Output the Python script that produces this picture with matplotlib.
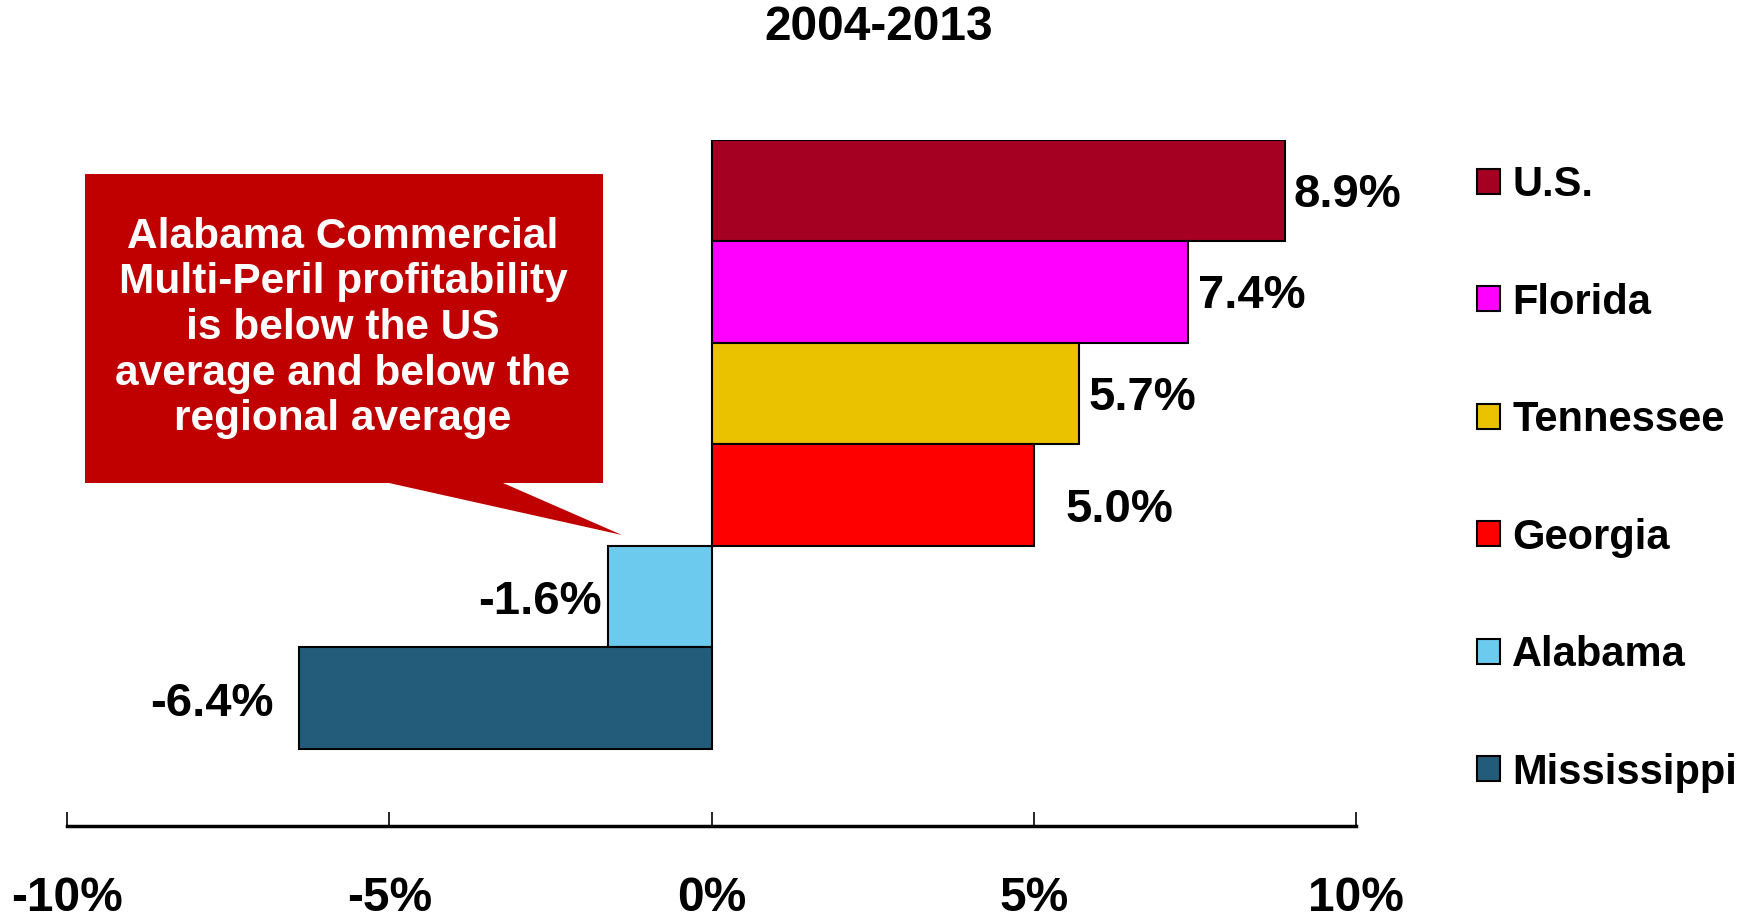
import matplotlib
matplotlib.use("Agg")
import matplotlib.pyplot as plt
from matplotlib.patches import Polygon

plt.rcParams['font.family'] = ['Liberation Sans', 'DejaVu Sans']
plt.rcParams['font.weight'] = 'bold'

# ---- data ----
title = "2004-2013"
states = ["U.S.", "Florida", "Tennessee", "Georgia", "Alabama", "Mississippi"]
values = [8.9, 7.4, 5.7, 5.0, -1.6, -6.4]
labels = ["8.9%", "7.4%", "5.7%", "5.0%", "-1.6%", "-6.4%"]
colors = ["#A50021", "#FF00FF", "#EBC200", "#FF0000", "#6DCAEF", "#235C7B"]
xticks = [-10, -5, 0, 5, 10]
xticklabels = ["-10%", "-5%", "0%", "5%", "10%"]
callout = ("Alabama Commercial\nMulti-Peril profitability\nis below the US\n"
           "average and below the\nregional average")

# label offsets (points): style only
label_offsets = [(6, -3), (7, -3), (7, -3), (23, -11), (-5, -4), (-18, -4)]

W, H = 1752, 922
fig = plt.figure(figsize=(W / 100, H / 100), dpi=100)

def fx(px):
    return px / W

def fy(py):
    return 1 - py / H

ax_left, ax_right = 67, 1356
ax_top, ax_bottom = 139.7, 826
ax = fig.add_axes([fx(ax_left), fy(ax_bottom), fx(ax_right) - fx(ax_left),
                   fy(ax_top) - fy(ax_bottom)])

ypos = list(range(len(states)))
bars = ax.barh(ypos, values, height=1.0, color=colors, edgecolor="black",
               linewidth=1.5)
ax.set_xlim(-10, 10)
ax.set_ylim(6.26, -0.5)

for i, (v, lab) in enumerate(zip(values, labels)):
    dx, dy = label_offsets[i]
    ax.annotate(lab, xy=(v, i), xytext=(dx, dy), textcoords="offset points",
                ha="left" if v >= 0 else "right", va="center",
                fontsize=34, fontweight="bold", color="black")

for s in ["top", "left", "right"]:
    ax.spines[s].set_visible(False)
ax.spines["bottom"].set_linewidth(2.5)
ax.set_yticks([])
ax.set_xticks(xticks)
ax.set_xticklabels(xticklabels, fontsize=34.5, fontweight="bold")
ax.tick_params(axis="x", direction="in", length=10, width=1.2, pad=36)

# title
fig.text(fx(879), fy(27), title, ha="center", va="center", fontsize=34.5,
         fontweight="bold")

# legend
leg = fig.legend(handles=list(bars), labels=states, loc="upper left",
                 bbox_to_anchor=(fx(1477), fy(165)), frameon=False,
                 fontsize=30, handlelength=0.55, handleheight=0.55,
                 handletextpad=0.3, labelspacing=1.86, borderpad=0,
                 borderaxespad=0)
for t in leg.get_texts():
    t.set_fontweight("bold")

# callout
red = "#C00000"
box = [(85, 174), (603, 174), (603, 483), (503, 483), (622, 535),
       (389, 483), (85, 483)]
poly = Polygon([(fx(x), fy(y)) for x, y in box], closed=True,
               transform=fig.transFigure, facecolor=red, edgecolor="none")
fig.add_artist(poly)
fig.text(fx(343), fy(328), callout, ha="center", va="center", color="white",
         fontsize=30.5, fontweight="bold", linespacing=1.18)

fig.savefig("out.png", dpi=100)
